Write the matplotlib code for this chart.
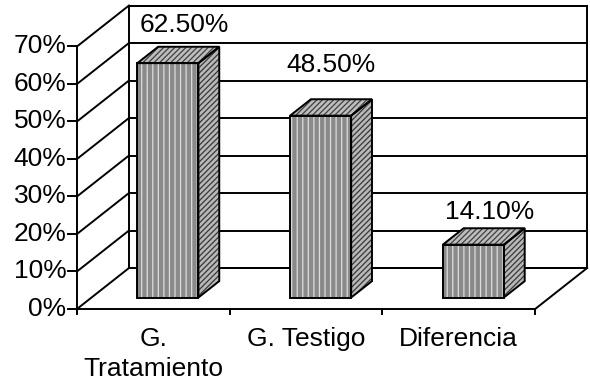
import matplotlib
matplotlib.use('Agg')
import matplotlib.pyplot as plt
from matplotlib.patches import Polygon

# datos del grafico
categorias = ['G.\nTratamiento', 'G. Testigo', 'Diferencia']
valores = [62.5, 48.5, 14.1]
etiquetas = ['62.50%', '48.50%', '14.10%']
ticks_y = [0, 10, 20, 30, 40, 50, 60, 70]
ticks_lbl = ['0%', '10%', '20%', '30%', '40%', '50%', '60%', '70%']

# desplazamiento oblicuo de una unidad de profundidad (unidades de datos)
DX, DY = 0.3405, 10.93
Z0, ZD = 0.28, 0.40   # inicio y grosor de la barra en profundidad
W = 0.4               # ancho de la barra
# posicion de las etiquetas sobre cada barra (x en categorias, y en %)
lbl_dx = [0.04, 0.0, 0.04]
lbl_dy = [8.0, 11.3, 6.6]

plt.rcParams['font.family'] = ['Liberation Sans', 'DejaVu Sans']
plt.rcParams['hatch.linewidth'] = 0.9

fig = plt.figure(figsize=(5.9, 3.88), dpi=100)
ax = fig.add_axes([0, 0, 1, 1])
ax.set_xlim(-0.504, 3.359)
ax.set_ylim(-21.07, 82.4)
ax.axis('off')

n = len(valores)
ymax = ticks_y[-1]
lw = 1.4
fs = 19


def p(x, v, z):
    return (x + z * DX, v + z * DY)


# pared del fondo y rejilla
ax.add_patch(Polygon([p(0, 0, 1), p(n, 0, 1), p(n, ymax, 1), p(0, ymax, 1)],
                     closed=True, facecolor='white', edgecolor='black', lw=lw))
for v in ticks_y:
    ax.plot([DX, n + DX], [v + DY, v + DY], color='black', lw=lw)
    ax.plot([0, DX], [v, v + DY], color='black', lw=lw)
    ax.plot([-0.059, 0], [v, v], color='black', lw=lw)

# ejes frontales y suelo
ax.plot([0, 0], [0, ymax], color='black', lw=lw)
ax.plot([0, n], [0, 0], color='black', lw=lw)
ax.plot([n, n + DX], [0, DY], color='black', lw=lw)
for c in range(n + 1):
    ax.plot([c, c], [0, -1.4], color='black', lw=lw)

# etiquetas del eje y
for v, t in zip(ticks_y, ticks_lbl):
    ax.text(-0.068, v, t, ha='right', va='center', fontsize=fs)

# barras 3D: cara frontal, lateral y superior
for i, val in enumerate(valores):
    x0 = i + 0.5 - W / 2
    x1 = i + 0.5 + W / 2
    frente = [p(x0, 0, Z0), p(x1, 0, Z0), p(x1, val, Z0), p(x0, val, Z0)]
    lado = [p(x1, 0, Z0), p(x1, 0, Z0 + ZD), p(x1, val, Z0 + ZD), p(x1, val, Z0)]
    tapa = [p(x0, val, Z0), p(x1, val, Z0), p(x1, val, Z0 + ZD), p(x0, val, Z0 + ZD)]
    ax.add_patch(Polygon(frente, facecolor='#8a8a8a', edgecolor='#dcdcdc',
                         hatch='|||', lw=0, zorder=3))
    ax.add_patch(Polygon(lado, facecolor='#b8b8b8', edgecolor='#383838',
                         hatch='//////', lw=0, zorder=3))
    ax.add_patch(Polygon(tapa, facecolor='#bdbdbd', edgecolor='#404040',
                         hatch='//////', lw=0, zorder=3))
    for cara in (frente, lado, tapa):
        ax.add_patch(Polygon(cara, fill=False, edgecolor='black', lw=lw,
                             joinstyle='miter', zorder=4))
    zc = Z0 + ZD / 2
    ax.text(i + 0.5 + zc * DX + lbl_dx[i], val + zc * DY + lbl_dy[i], etiquetas[i],
            ha='center', va='center', fontsize=fs, zorder=5)
    ax.text(i + 0.5, -4.9, categorias[i], ha='center', va='top', fontsize=fs,
            linespacing=1.3)

fig.savefig('out.png', dpi=100, facecolor='white')
